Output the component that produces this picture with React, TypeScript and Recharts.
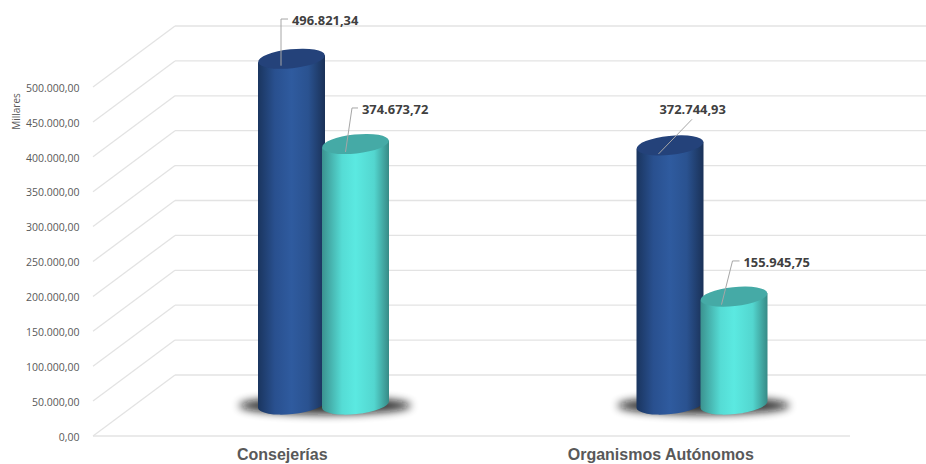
import React from 'react';
import { BarChart, Bar, XAxis, YAxis, CartesianGrid, LabelList } from 'recharts';

const categories = ['Consejerías', 'Organismos Autónomos'];
const seriesA = [496821.34, 372744.93];
const seriesB = [374673.72, 155945.75];
const yTicks = [0, 50000, 100000, 150000, 200000, 250000, 300000, 350000, 400000, 450000, 500000];

const rows = categories.map((name, i) => ({ name, a: seriesA[i], b: seriesB[i] }));

const DX = 82;
const DY = 61;
const MIDX = 41;
const MIDY = 30.5;
const RY = 9.5;
const TILT = -6;

const fmt = (v: number) => {
  const [i, d] = v.toFixed(2).split('.');
  return i.replace(/\B(?=(\d{3})+(?!\d))/g, '.') + ',' + d;
};

const GRID = '#e3e3e3';

const gridLine = (p: any) => {
  const { x1, x2, y1, key } = p;
  return (
    <g key={key}>
      <line x1={x1} y1={y1} x2={x1 + DX} y2={y1 - DY} stroke={GRID} strokeWidth={1.3} />
      <line x1={x1 + DX} y1={y1 - DY} x2={x2 + DX} y2={y1 - DY} stroke={GRID} strokeWidth={1.3} />
    </g>
  );
};

const cylinder = (kind: 'a' | 'b') => (p: any) => {
  const { x, y, width, height } = p;
  const left = x + MIDX;
  const right = left + width;
  const cx = left + width / 2;
  const top = y - MIDY;
  const bottom = y + height - MIDY - 1;
  const rx = width / 2;
  const sin = Math.sin((TILT * Math.PI) / 180);
  const lOff = -rx * sin;
  const rOff = rx * sin;
  const d = `M${left},${top + lOff} L${left},${bottom + lOff} A${rx},${RY} ${TILT} 0 0 ${right},${bottom + rOff} L${right},${top + rOff} Z`;
  return (
    <g>
      {kind === 'a' && (
        <ellipse cx={right} cy={bottom + 1} rx={86} ry={9} fill="#111" filter="url(#shadowBlur)" opacity={0.85} />
      )}
      <path d={d} fill={`url(#grad-${kind})`} />
      <ellipse
        cx={cx}
        cy={top}
        rx={rx}
        ry={RY}
        transform={`rotate(${TILT} ${cx} ${top})`}
        fill={kind === 'a' ? '#24427a' : '#45aaa6'}
      />
    </g>
  );
};

const leaders: Record<string, { sx: number; sy: number; mx: number; my: number; ex: number; tx: number; ty: number }> = {
  a0: { sx: -10.5, sy: 7, mx: -10.5, my: -39.7, ex: -3.5, tx: 0.5, ty: -37 },
  b0: { sx: -10, sy: 8, mx: -3.5, my: -36, ex: 2.5, tx: 6.5, ty: -33.3 },
  a1: { sx: -11.5, sy: 8.6, mx: 22, my: -26, ex: 22, tx: -10.5, ty: -35 },
  b1: { sx: -12.5, sy: 8, mx: -1.5, my: -35.7, ex: 5.5, tx: 9.5, ty: -33 },
};

const dataLabel = (kind: 'a' | 'b') => (p: any) => {
  const { x, y, width, value, index } = p;
  const cx = x + MIDX + width / 2;
  const top = y - MIDY;
  const l = leaders[kind + index];
  return (
    <g>
      <path
        d={`M${cx + l.sx},${top + l.sy} L${cx + l.mx},${top + l.my} L${cx + l.ex},${top + l.my}`}
        fill="none"
        stroke="#a6a6a6"
        strokeWidth={1}
      />
      <text
        x={cx + l.tx}
        y={top + l.ty}
        dominantBaseline="middle"
        fontFamily="'Open Sans', sans-serif"
        fontWeight={700}
        fontSize={12.9}
        fill="#404040"
      >
        {fmt(Number(value))}
      </text>
    </g>
  );
};

export default function App() {
  return (
    <div style={{ position: 'absolute', left: 0, top: 0, width: 926, height: 464, overflow: 'hidden', background: '#fff' }}>
      <BarChart
        width={926}
        height={464}
        data={rows}
        margin={{ top: 87, right: 76, bottom: 0, left: 0 }}
        barSize={67}
        barGap={-3}
        barCategoryGap={0}
      >
        <defs>
          <linearGradient id="grad-a" x1="0" y1="0" x2="1" y2="0">
            <stop offset="0" stopColor="#1a355f" />
            <stop offset="0.25" stopColor="#29508f" />
            <stop offset="0.5" stopColor="#2f5b9f" />
            <stop offset="0.75" stopColor="#2a5290" />
            <stop offset="1" stopColor="#1a3157" />
          </linearGradient>
          <linearGradient id="grad-b" x1="0" y1="0" x2="1" y2="0">
            <stop offset="0" stopColor="#3b928f" />
            <stop offset="0.3" stopColor="#55dcd5" />
            <stop offset="0.5" stopColor="#5be9e1" />
            <stop offset="0.78" stopColor="#53d6cf" />
            <stop offset="1" stopColor="#378a86" />
          </linearGradient>
          <filter id="shadowBlur" x="-20%" y="-80%" width="140%" height="260%">
            <feGaussianBlur stdDeviation="4" />
          </filter>
        </defs>
        <CartesianGrid horizontal={gridLine} vertical={false} />
        <XAxis
          dataKey="name"
          height={28}
          axisLine={{ stroke: GRID, strokeWidth: 1.3 }}
          tickLine={false}
          interval={0}
          tick={{ fontFamily: "'Liberation Sans', Arial, sans-serif", fontWeight: 700, fontSize: 16, fill: '#595959' }}
          tickMargin={7}
        />
        <YAxis
          domain={[0, 500000]}
          ticks={yTicks}
          width={93}
          axisLine={false}
          tickLine={false}
          tickFormatter={fmt}
          tickMargin={7.5}
          tick={{ fontFamily: "'Open Sans', sans-serif", fontSize: 10.5, fill: '#595959', dy: 1 }}
          label={{
            value: 'Millares',
            angle: -90,
            position: 'insideLeft',
            dx: 11,
            dy: -150,
            style: { fontFamily: "'Open Sans', sans-serif", fontSize: 10, fill: '#595959', textAnchor: 'middle' },
          }}
        />
        <Bar dataKey="a" isAnimationActive={false} shape={cylinder('a')}>
          <LabelList dataKey="a" content={dataLabel('a')} />
        </Bar>
        <Bar dataKey="b" isAnimationActive={false} shape={cylinder('b')}>
          <LabelList dataKey="b" content={dataLabel('b')} />
        </Bar>
      </BarChart>
    </div>
  );
}
